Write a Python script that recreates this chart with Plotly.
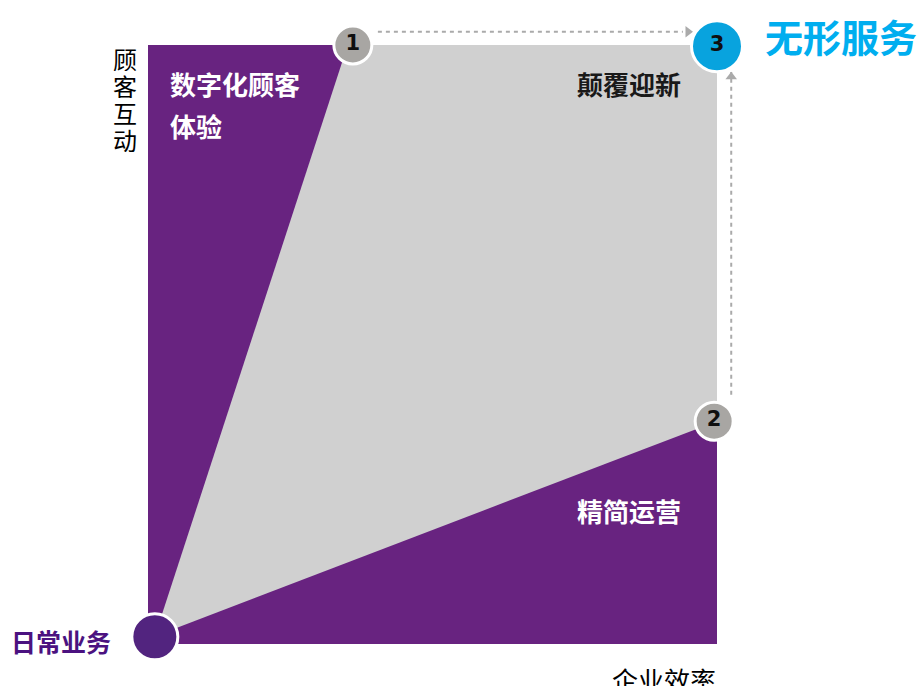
import plotly.graph_objects as go

# Data space: x = 企业效率 (0-100), y = 顾客互动 (0-100)
frame_x = [0, 100, 100, 0, 0]
frame_y = [0, 0, 100, 100, 0]

gray_x = [1.2, 35.1, 100, 100, 1.2]
gray_y = [1.3, 100, 100, 37.2, 1.3]

node_labels = ["1", "2", "3"]
node_x = [36.0, 99.5, 100.0]
node_y = [100.0, 37.2, 99.8]

origin_x = [1.2]
origin_y = [1.2]

PURPLE = "rgb(104,35,128)"
GRAY = "rgb(208,208,208)"
BLUE = "rgb(8,163,222)"
FONT = "Noto Sans CJK SC"

fig = go.Figure()

fig.add_trace(go.Scatter(x=frame_x, y=frame_y, fill="toself", fillcolor=PURPLE,
                         line=dict(width=0), mode="lines", hoverinfo="skip"))
fig.add_trace(go.Scatter(x=gray_x, y=gray_y, fill="toself", fillcolor=GRAY,
                         line=dict(width=0), mode="lines", hoverinfo="skip"))

# dashed arrows
fig.add_trace(go.Scatter(x=[40.4, 94.0], y=[102.2, 102.2], mode="lines",
                         line=dict(color="rgb(170,170,170)", width=2, dash="4px,4px"),
                         hoverinfo="skip"))
fig.add_trace(go.Scatter(x=[102.5, 102.5], y=[41.6, 95.5], mode="lines",
                         line=dict(color="rgb(170,170,170)", width=2, dash="4px,4px"),
                         hoverinfo="skip"))
fig.add_trace(go.Scatter(x=[94.9], y=[102.2], mode="markers",
                         marker=dict(symbol="triangle-right", size=10, color="rgb(170,170,170)"),
                         hoverinfo="skip"))
fig.add_trace(go.Scatter(x=[102.5], y=[94.7], mode="markers",
                         marker=dict(symbol="triangle-up", size=10, color="rgb(170,170,170)"),
                         hoverinfo="skip"))

# origin node
fig.add_trace(go.Scatter(x=origin_x, y=origin_y, mode="markers",
                         marker=dict(size=46, color="rgb(82,36,127)", opacity=1,
                                     line=dict(color="white", width=3)),
                         hoverinfo="skip"))

# numbered nodes
fig.add_trace(go.Scatter(x=node_x, y=node_y, mode="markers+text",
                         text=["<b>%s</b>" % t for t in node_labels],
                         textposition="middle center",
                         textfont=dict(family="DejaVu Sans", size=21, color="rgb(15,15,15)"),
                         marker=dict(size=[38, 38, 51], opacity=1,
                                     color=["rgb(168,166,163)", "rgb(168,166,163)", BLUE],
                                     line=dict(color="white", width=3)),
                         hoverinfo="skip"))

ann = []
# vertical y-axis title
for ch, yy in zip("顾客互动", [97.83, 93.32, 88.81, 84.31]):
    ann.append(dict(x=-4.04, y=yy, text=ch, showarrow=False, xanchor="center", yanchor="middle",
                    height=26, font=dict(family=FONT, size=24, color="black")))

ann += [
    dict(x=3.51, y=93.49, text="<b>数字化顾客</b>", xanchor="left", font=dict(size=26, color="white")),
    dict(x=3.51, y=86.48, text="<b>体验</b>", xanchor="left", font=dict(size=26, color="white")),
    dict(x=94.02, y=93.6, text="<b>颠覆迎新</b>", xanchor="right", font=dict(size=26, color="rgb(25,25,25)")),
    dict(x=94.02, y=22.37, text="<b>精简运营</b>", xanchor="right", font=dict(size=26, color="white")),
    dict(x=108.08, y=101.67, text="<b>无形服务</b>", xanchor="left", font=dict(size=38, color="rgb(0,174,239)")),
    dict(x=-6.15, y=0.5, text="<b>日常业务</b>", xanchor="right", font=dict(size=25, color="rgb(75,18,128)")),
    dict(x=81.2, y=-5.9, text="企业效率", xanchor="left", font=dict(size=26, color="black")),
]
for a in ann[4:]:
    a.setdefault("showarrow", False)
    a.setdefault("yanchor", "middle")
    a["font"].setdefault("family", FONT)

fig.update_layout(
    width=921, height=686,
    margin=dict(l=0, r=0, t=0, b=0),
    plot_bgcolor="white", paper_bgcolor="white",
    showlegend=False,
    annotations=ann,
    xaxis=dict(range=[-148 / 5.69, (921 - 148) / 5.69], visible=False, fixedrange=True),
    yaxis=dict(range=[-(686 - 644) / 5.99, 100 + 45 / 5.99], visible=False, fixedrange=True),
)

fig.write_html("out.html")
